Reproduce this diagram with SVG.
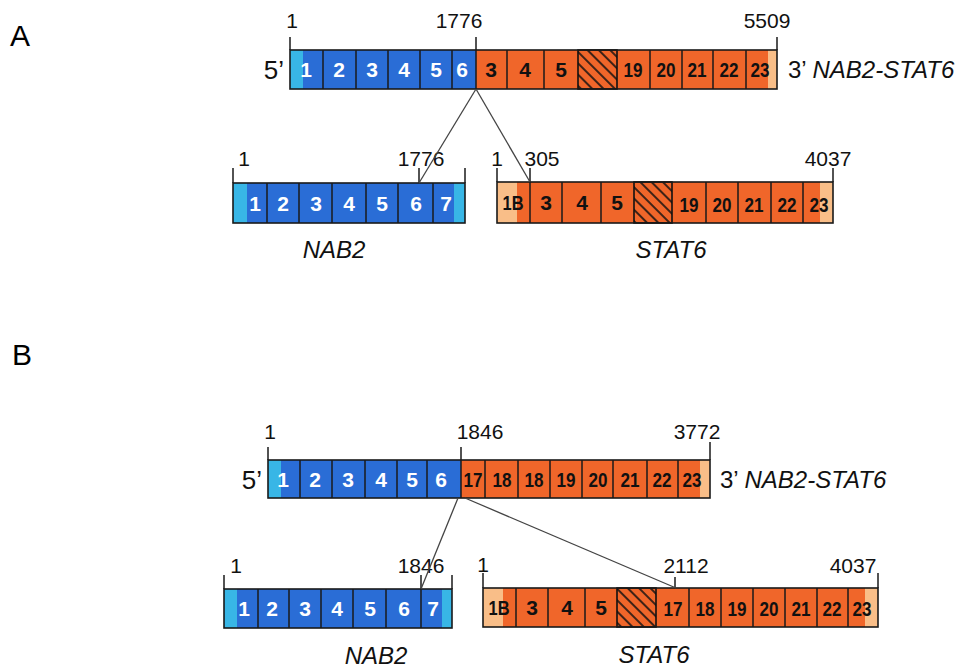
<svg xmlns="http://www.w3.org/2000/svg" width="964" height="668" viewBox="0 0 964 668">
<defs>
<pattern id="hatch" width="8" height="8" patternUnits="userSpaceOnUse" patternTransform="rotate(-45)">
<rect width="8" height="8" fill="#f0662a"/>
<line x1="4" y1="0" x2="4" y2="8" stroke="#111" stroke-width="1.6"/>
</pattern>
<style>
.blue{fill:#2a6dd6}
.cyan{fill:#38b6e6}
.org{fill:#f0662a}
.lt{fill:#f9be88}
.hat{fill:url(#hatch);stroke:#111;stroke-width:1.6}
.div{stroke:#1a1a1a;stroke-width:1.5}
.out{fill:none;stroke:#1a1a1a;stroke-width:1.6}
.tick{stroke:#1a1a1a;stroke-width:1.5}
.conn{stroke:#444;stroke-width:1.3;fill:none}
.ew{font-family:"Liberation Sans",Arial,sans-serif;font-weight:bold;font-size:21px;fill:#fff;text-anchor:middle}
.eb{font-family:"Liberation Sans",Arial,sans-serif;font-weight:bold;font-size:21px;fill:#111;text-anchor:middle}
.pos{font-family:"Liberation Sans",Arial,sans-serif;font-size:21px;fill:#111;text-anchor:middle}
.gn{font-family:"Liberation Sans",Arial,sans-serif;font-size:24px;fill:#111}
.it{font-style:italic}
.pr{font-family:"Liberation Sans",Arial,sans-serif;font-size:26px;fill:#111}
.pl{font-family:"Liberation Sans",Arial,sans-serif;font-size:30px;fill:#000}
</style>
</defs>
<rect width="964" height="668" fill="#fff"/>

<text class="pl" x="10" y="46">A</text>
<text class="pl" x="12" y="365">B</text>

<!-- Panel A fusion -->
<g id="a-fusion">
<rect class="blue" x="290" y="50" width="186" height="39"/>
<rect class="cyan" x="290" y="50" width="13" height="39"/>
<rect class="org" x="476" y="50" width="301" height="39"/>
<rect class="lt" x="768" y="50" width="9" height="39"/>
<rect class="hat" x="578" y="50" width="39" height="39"/>
<g class="div">
<line x1="323" y1="50" x2="323" y2="89"/><line x1="356" y1="50" x2="356" y2="89"/><line x1="388" y1="50" x2="388" y2="89"/><line x1="420" y1="50" x2="420" y2="89"/><line x1="452" y1="50" x2="452" y2="89"/><line x1="476" y1="50" x2="476" y2="89"/><line x1="507" y1="50" x2="507" y2="89"/><line x1="544" y1="50" x2="544" y2="89"/><line x1="650" y1="50" x2="650" y2="89"/><line x1="682" y1="50" x2="682" y2="89"/><line x1="713" y1="50" x2="713" y2="89"/><line x1="746" y1="50" x2="746" y2="89"/>
</g>
<rect class="out" x="290" y="50" width="487" height="39"/>
<g class="tick"><line x1="290" y1="37" x2="290" y2="50"/><line x1="476" y1="37" x2="476" y2="50"/><line x1="777" y1="37" x2="777" y2="50"/></g>
<text class="pos" x="292" y="28">1</text>
<text class="pos" x="459" y="28">1776</text>
<text class="pos" x="767" y="28">5509</text>
<text class="pr" x="284" y="79" text-anchor="end">5’</text>
<text class="gn" x="788" y="78">3’ <tspan class="it">NAB2-STAT6</tspan></text>
<text class="ew" x="306" y="77">1</text><text class="ew" x="339" y="77">2</text><text class="ew" x="372" y="77">3</text><text class="ew" x="404" y="77">4</text><text class="ew" x="436" y="77">5</text><text class="ew" x="462" y="77">6</text>
<text class="eb" x="491" y="77">3</text><text class="eb" x="525" y="77">4</text><text class="eb" x="561" y="77">5</text><text class="eb" x="633" y="77" textLength="19" lengthAdjust="spacingAndGlyphs">19</text><text class="eb" x="666" y="77" textLength="19" lengthAdjust="spacingAndGlyphs">20</text><text class="eb" x="697" y="77" textLength="19" lengthAdjust="spacingAndGlyphs">21</text><text class="eb" x="729" y="77" textLength="19" lengthAdjust="spacingAndGlyphs">22</text><text class="eb" x="760" y="77" textLength="19" lengthAdjust="spacingAndGlyphs">23</text>
</g>

<!-- Panel A NAB2 -->
<g id="a-nab2">
<rect class="blue" x="233" y="183" width="232" height="40"/>
<rect class="cyan" x="233" y="183" width="14" height="40"/>
<rect class="cyan" x="454" y="183" width="11" height="40"/>
<g class="div">
<line x1="267" y1="183" x2="267" y2="223"/><line x1="299" y1="183" x2="299" y2="223"/><line x1="332" y1="183" x2="332" y2="223"/><line x1="366" y1="183" x2="366" y2="223"/><line x1="398" y1="183" x2="398" y2="223"/><line x1="433" y1="183" x2="433" y2="223"/>
</g>
<rect class="out" x="233" y="183" width="232" height="40"/>
<g class="tick"><line x1="233" y1="168" x2="233" y2="183"/><line x1="465" y1="168" x2="465" y2="183"/><line x1="419" y1="168" x2="419" y2="183"/></g>
<text class="pos" x="244" y="166">1</text>
<text class="pos" x="421" y="166" text-anchor="end">1776</text>
<text class="ew" x="255" y="211">1</text><text class="ew" x="283" y="211">2</text><text class="ew" x="316" y="211">3</text><text class="ew" x="349" y="211">4</text><text class="ew" x="382" y="211">5</text><text class="ew" x="416" y="211">6</text><text class="ew" x="446" y="211">7</text>
<text class="gn it" x="334" y="258" text-anchor="middle">NAB2</text>
</g>

<!-- Panel A STAT6 -->
<g id="a-stat6">
<rect class="org" x="497" y="182" width="336" height="41"/>
<rect class="lt" x="497" y="182" width="20" height="41"/>
<rect class="lt" x="820" y="182" width="13" height="41"/>
<rect class="hat" x="634" y="182" width="38" height="41"/>
<g class="div">
<line x1="530" y1="182" x2="530" y2="223"/><line x1="562" y1="182" x2="562" y2="223"/><line x1="601" y1="182" x2="601" y2="223"/><line x1="706" y1="182" x2="706" y2="223"/><line x1="738" y1="182" x2="738" y2="223"/><line x1="771" y1="182" x2="771" y2="223"/><line x1="803" y1="182" x2="803" y2="223"/>
</g>
<rect class="out" x="497" y="182" width="336" height="41"/>
<g class="tick"><line x1="497" y1="168" x2="497" y2="182"/><line x1="530" y1="168" x2="530" y2="182"/><line x1="833" y1="168" x2="833" y2="182"/></g>
<text class="pos" x="497" y="166">1</text>
<text class="pos" x="542" y="166">305</text>
<text class="pos" x="828" y="166">4037</text>
<text class="eb" x="513" y="210" textLength="21" lengthAdjust="spacingAndGlyphs">1B</text><text class="eb" x="546" y="210">3</text><text class="eb" x="582" y="210">4</text><text class="eb" x="617" y="210">5</text><text class="eb" x="689" y="212" textLength="19" lengthAdjust="spacingAndGlyphs">19</text><text class="eb" x="722" y="212" textLength="19" lengthAdjust="spacingAndGlyphs">20</text><text class="eb" x="754" y="212" textLength="19" lengthAdjust="spacingAndGlyphs">21</text><text class="eb" x="787" y="212" textLength="19" lengthAdjust="spacingAndGlyphs">22</text><text class="eb" x="819" y="212" textLength="19" lengthAdjust="spacingAndGlyphs">23</text>
<text class="gn it" x="671" y="258" text-anchor="middle">STAT6</text>
</g>

<!-- Panel B fusion -->
<g id="b-fusion">
<rect class="blue" x="268" y="460" width="193" height="38"/>
<rect class="cyan" x="268" y="460" width="13" height="38"/>
<rect class="org" x="461" y="460" width="249" height="38"/>
<rect class="lt" x="700" y="460" width="10" height="38"/>
<g class="div">
<line x1="300" y1="460" x2="300" y2="498"/><line x1="332" y1="460" x2="332" y2="498"/><line x1="365" y1="460" x2="365" y2="498"/><line x1="397" y1="460" x2="397" y2="498"/><line x1="427" y1="460" x2="427" y2="498"/><line x1="461" y1="460" x2="461" y2="498"/><line x1="485" y1="460" x2="485" y2="498"/><line x1="518" y1="460" x2="518" y2="498"/><line x1="550" y1="460" x2="550" y2="498"/><line x1="582" y1="460" x2="582" y2="498"/><line x1="613" y1="460" x2="613" y2="498"/><line x1="647" y1="460" x2="647" y2="498"/><line x1="678" y1="460" x2="678" y2="498"/>
</g>
<rect class="out" x="268" y="460" width="442" height="38"/>
<g class="tick"><line x1="268" y1="447" x2="268" y2="460"/><line x1="461" y1="447" x2="461" y2="460"/><line x1="710" y1="442" x2="710" y2="460"/></g>
<text class="pos" x="270" y="439">1</text>
<text class="pos" x="480" y="439">1846</text>
<text class="pos" x="697" y="439">3772</text>
<text class="pr" x="262" y="489" text-anchor="end">5’</text>
<text class="gn" x="720" y="488">3’ <tspan class="it">NAB2-STAT6</tspan></text>
<text class="ew" x="283" y="487">1</text><text class="ew" x="315" y="487">2</text><text class="ew" x="348" y="487">3</text><text class="ew" x="381" y="487">4</text><text class="ew" x="412" y="487">5</text><text class="ew" x="441" y="487">6</text>
<text class="eb" x="473" y="487" textLength="19" lengthAdjust="spacingAndGlyphs">17</text><text class="eb" x="502" y="487" textLength="19" lengthAdjust="spacingAndGlyphs">18</text><text class="eb" x="534" y="487" textLength="19" lengthAdjust="spacingAndGlyphs">18</text><text class="eb" x="566" y="487" textLength="19" lengthAdjust="spacingAndGlyphs">19</text><text class="eb" x="598" y="487" textLength="19" lengthAdjust="spacingAndGlyphs">20</text><text class="eb" x="630" y="487" textLength="19" lengthAdjust="spacingAndGlyphs">21</text><text class="eb" x="662" y="487" textLength="19" lengthAdjust="spacingAndGlyphs">22</text><text class="eb" x="692" y="487" textLength="19" lengthAdjust="spacingAndGlyphs">23</text>
</g>

<!-- Panel B NAB2 -->
<g id="b-nab2">
<rect class="blue" x="224" y="589" width="228" height="39"/>
<rect class="cyan" x="224" y="589" width="13" height="39"/>
<rect class="cyan" x="442" y="589" width="10" height="39"/>
<g class="div">
<line x1="258" y1="589" x2="258" y2="628"/><line x1="289" y1="589" x2="289" y2="628"/><line x1="321" y1="589" x2="321" y2="628"/><line x1="353" y1="589" x2="353" y2="628"/><line x1="386" y1="589" x2="386" y2="628"/><line x1="421" y1="589" x2="421" y2="628"/>
</g>
<rect class="out" x="224" y="589" width="228" height="39"/>
<g class="tick"><line x1="224" y1="575" x2="224" y2="589"/><line x1="452" y1="575" x2="452" y2="589"/><line x1="421" y1="575" x2="421" y2="589"/></g>
<text class="pos" x="236" y="573">1</text>
<text class="pos" x="421" y="573" text-anchor="end">1846</text>
<text class="ew" x="244" y="616">1</text><text class="ew" x="272" y="616">2</text><text class="ew" x="305" y="616">3</text><text class="ew" x="337" y="616">4</text><text class="ew" x="370" y="616">5</text><text class="ew" x="404" y="616">6</text><text class="ew" x="433" y="616">7</text>
<text class="gn it" x="376" y="664" text-anchor="middle">NAB2</text>
</g>

<!-- Panel B STAT6 -->
<g id="b-stat6">
<rect class="org" x="483" y="588" width="395" height="39"/>
<rect class="lt" x="483" y="588" width="20" height="39"/>
<rect class="lt" x="865" y="588" width="13" height="39"/>
<rect class="hat" x="617" y="588" width="39" height="39"/>
<g class="div">
<line x1="516" y1="588" x2="516" y2="627"/><line x1="548" y1="588" x2="548" y2="627"/><line x1="585" y1="588" x2="585" y2="627"/><line x1="689" y1="588" x2="689" y2="627"/><line x1="721" y1="588" x2="721" y2="627"/><line x1="753" y1="588" x2="753" y2="627"/><line x1="785" y1="588" x2="785" y2="627"/><line x1="817" y1="588" x2="817" y2="627"/><line x1="848" y1="588" x2="848" y2="627"/>
</g>
<rect class="out" x="483" y="588" width="395" height="39"/>
<g class="tick"><line x1="483" y1="573" x2="483" y2="588"/><line x1="675" y1="577" x2="675" y2="588"/><line x1="878" y1="573" x2="878" y2="588"/></g>
<text class="pos" x="483" y="572">1</text>
<text class="pos" x="686" y="573">2112</text>
<text class="pos" x="853" y="573">4037</text>
<text class="eb" x="499" y="615" textLength="21" lengthAdjust="spacingAndGlyphs">1B</text><text class="eb" x="532" y="615">3</text><text class="eb" x="567" y="615">4</text><text class="eb" x="601" y="615">5</text><text class="eb" x="673" y="616" textLength="19" lengthAdjust="spacingAndGlyphs">17</text><text class="eb" x="705" y="616" textLength="19" lengthAdjust="spacingAndGlyphs">18</text><text class="eb" x="737" y="616" textLength="19" lengthAdjust="spacingAndGlyphs">19</text><text class="eb" x="769" y="616" textLength="19" lengthAdjust="spacingAndGlyphs">20</text><text class="eb" x="801" y="616" textLength="19" lengthAdjust="spacingAndGlyphs">21</text><text class="eb" x="832" y="616" textLength="19" lengthAdjust="spacingAndGlyphs">22</text><text class="eb" x="862" y="616" textLength="19" lengthAdjust="spacingAndGlyphs">23</text>
<text class="gn it" x="654" y="663" text-anchor="middle">STAT6</text>
</g>

<g id="connectors">
<line class="conn" x1="476" y1="89" x2="419" y2="183"/>
<line class="conn" x1="476" y1="89" x2="530" y2="182"/>
<line class="conn" x1="458" y1="498" x2="421" y2="589"/>
<line class="conn" x1="465" y1="498" x2="676" y2="588"/>
</g>
</svg>
